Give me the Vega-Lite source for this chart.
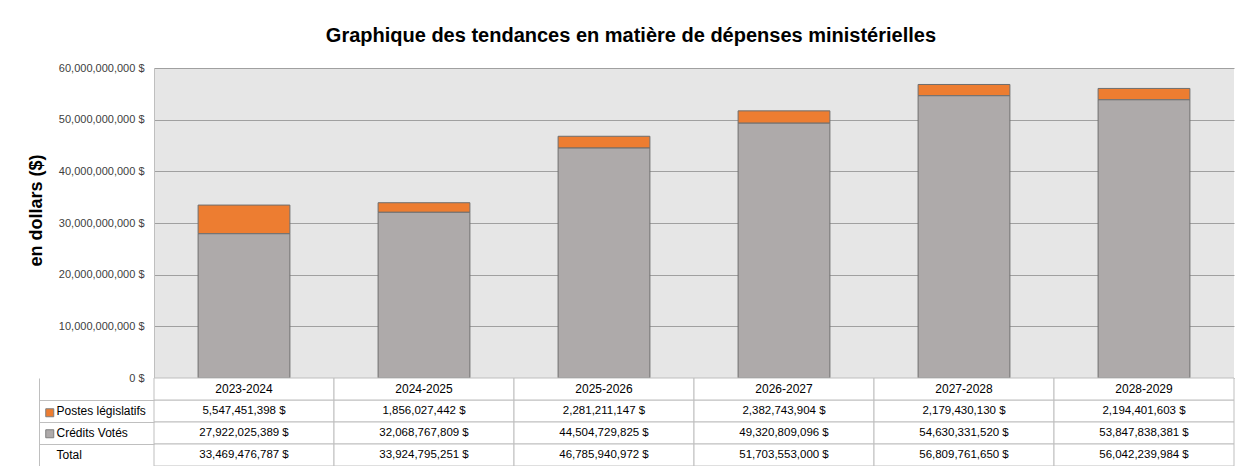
{
  "$schema": "https://vega.github.io/schema/vega-lite/v6.json",
  "padding": {"left": 27, "top": 26, "right": 3, "bottom": 0},
  "autosize": {"type": "pad"},
  "background": "white",
  "config": {
    "locale": {"number": {"decimal": ".", "thousands": ",", "grouping": [3], "currency": ["", " $"]}},
    "font": "Liberation Sans",
    "view": {"stroke": null}
  },
  "bounds": "flush",
  "spacing": 0,
  "title": {
    "text": "Graphique des tendances en matière de dépenses ministérielles",
    "fontSize": 20,
    "fontWeight": "bold",
    "font": "Liberation Sans",
    "anchor": "middle",
    "offset": 16,
    "color": "#000000"
  },
  "data": {
    "values": [
      {"year": "2023-2024", "row": "Postes législatifs", "value": 5547451398},
      {"year": "2023-2024", "row": "Crédits Votés", "value": 27922025389},
      {"year": "2023-2024", "row": "Total", "value": 33469476787},
      {"year": "2024-2025", "row": "Postes législatifs", "value": 1856027442},
      {"year": "2024-2025", "row": "Crédits Votés", "value": 32068767809},
      {"year": "2024-2025", "row": "Total", "value": 33924795251},
      {"year": "2025-2026", "row": "Postes législatifs", "value": 2281211147},
      {"year": "2025-2026", "row": "Crédits Votés", "value": 44504729825},
      {"year": "2025-2026", "row": "Total", "value": 46785940972},
      {"year": "2026-2027", "row": "Postes législatifs", "value": 2382743904},
      {"year": "2026-2027", "row": "Crédits Votés", "value": 49320809096},
      {"year": "2026-2027", "row": "Total", "value": 51703553000},
      {"year": "2027-2028", "row": "Postes législatifs", "value": 2179430130},
      {"year": "2027-2028", "row": "Crédits Votés", "value": 54630331520},
      {"year": "2027-2028", "row": "Total", "value": 56809761650},
      {"year": "2028-2029", "row": "Postes législatifs", "value": 2194401603},
      {"year": "2028-2029", "row": "Crédits Votés", "value": 53847838381},
      {"year": "2028-2029", "row": "Total", "value": 56042239984}
    ]
  },
  "resolve": {"scale": {"x": "independent", "y": "independent"}},
  "vconcat": [
    {
      "width": 1080,
      "height": 310,
      "view": {"fill": "#e6e6e6", "stroke": null},
      "transform": [{"filter": "datum.row !== 'Total'"}],
      "mark": {"type": "bar", "stroke": "#6e6e6e", "strokeWidth": 1},
      "encoding": {
        "x": {
          "field": "year", "type": "nominal", "sort": null,
          "scale": {"paddingInner": 0.49, "paddingOuter": 0.245},
          "axis": null
        },
        "y": {
          "field": "value", "type": "quantitative", "stack": "zero",
          "scale": {"domain": [0, 60000000000], "nice": false},
          "axis": {
            "values": [0, 10000000000, 20000000000, 30000000000, 40000000000, 50000000000, 60000000000],
            "format": "$,.0f",
            "title": "en dollars ($)",
            "titleFontSize": 18,
            "titleFontWeight": "bold",
            "titleColor": "#000000",
            "titlePadding": 13,
            "titleY": 142,
            "labelFontSize": 11,
            "labelColor": "#404040",
            "ticks": false,
            "labelPadding": 10,
            "domainColor": "#bfbfbf",
            "gridColor": "#a0a0a0",
            "grid": true
          }
        },
        "color": {
          "field": "row", "type": "nominal",
          "scale": {"domain": ["Postes législatifs", "Crédits Votés"], "range": ["#ed7d31", "#aeaaaa"]},
          "legend": {
            "orient": "none",
            "legendX": -110,
            "legendY": 339,
            "title": null,
            "symbolType": "square",
            "symbolSize": 64,
            "symbolStrokeColor": "#7f7f7f",
            "symbolStrokeWidth": 1,
            "labelExpr": "''",
            "labelFontSize": 11.5,
            "rowPadding": 8
          }
        },
        "order": {"field": "row", "sort": "ascending"}
      }
    },
    {
      "width": 1080,
      "height": 88,
      "encoding": {
        "x": {
          "field": "year", "type": "nominal", "sort": null,
          "scale": {"type": "band", "paddingInner": 0, "paddingOuter": 0},
          "axis": null
        }
      },
      "layer": [
        {
          "mark": {"type": "rect", "fill": "white", "stroke": "#bfbfbf", "strokeWidth": 1},
          "encoding": {
            "y": {
              "field": "row", "type": "nominal",
              "scale": {"type": "band", "domain": ["hdr", "Postes législatifs", "Crédits Votés", "Total"], "paddingInner": 0, "paddingOuter": 0},
              "axis": {
                "orient": "left",
                "offset": 115,
                "tickSize": -115,
                "ticks": true,
                "tickColor": "#bfbfbf",
                "domainColor": "#bfbfbf",
                "values": ["Postes législatifs", "Crédits Votés", "Total"],
                "bandPosition": 0,
                "labelAlign": "left",
                "labelBaseline": "middle",
                "labelPadding": 98,
                "labelFontSize": 12,
                "labelColor": "#000000",
                "title": null,
                "grid": false
              }
            }
          }
        },
        {
          "transform": [{"filter": "datum.row === 'Total'"}],
          "mark": {"type": "rect", "fill": "white", "stroke": "#bfbfbf", "strokeWidth": 1},
          "encoding": {"y": {"datum": "hdr", "type": "nominal", "title": null}}
        },
        {
          "mark": {"type": "text", "fontSize": 11.5, "color": "#000000"},
          "encoding": {
            "y": {"field": "row", "type": "nominal", "title": null},
            "text": {"field": "value", "type": "quantitative", "format": "$,.0f"}
          }
        },
        {
          "transform": [{"filter": "datum.row === 'Total'"}],
          "mark": {"type": "text", "fontSize": 12, "color": "#000000"},
          "encoding": {
            "y": {"datum": "hdr", "type": "nominal", "title": null},
            "text": {"field": "year", "type": "nominal"}
          }
        }
      ]
    }
  ]
}
